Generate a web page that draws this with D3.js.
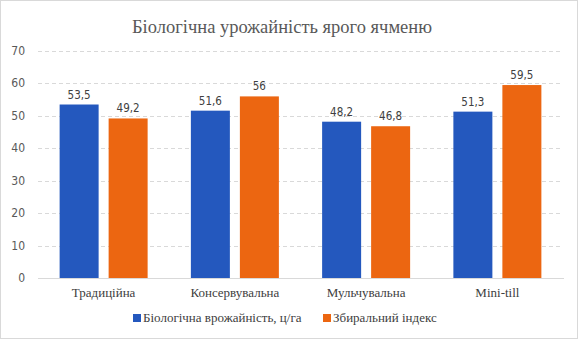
<!DOCTYPE html>
<html>
<head>
  <meta charset="UTF-8">
</head>
<body style="margin:0">
<svg width="581" height="341"></svg>
<script src="https://d3js.org/d3.v7.min.js"></script>
<script>

let width = 581, height = 341;

// data
const categories = ["Традиційна", "Консервувальна", "Мульчувальна", "Mini-till"];
const seriesNames = ["Біологічна врожайність, ц/га", "Збиральний індекс"];
const yieldValues = [53.5, 51.6, 48.2, 51.3];
const indexValues = [49.2, 56, 46.8, 59.5];
const yTicks = [0, 10, 20, 30, 40, 50, 60, 70];
const colors = ["#2458be", "#ec6611"];

const serif = "Liberation Serif";
const sans = "DejaVu Sans Condensed";

let svg = d3.select("svg");

// outer frame
svg.append("rect")
    .attr("x", 0.5).attr("y", 0.5)
    .attr("width", 577).attr("height", 338)
    .attr("fill", "none")
    .attr("stroke", "#d9d9d9");

svg.append("text")
    .attr("x", 282).attr("y", 33)
    .attr("text-anchor", "middle")
    .attr("font-family", serif)
    .attr("font-size", 18.5)
    .attr("fill", "#595959")
    .text("Біологічна урожайність ярого ячменю");

const x0 = d3.scaleBand()
    .domain(categories)
    .range([38, 563])
    .paddingInner(0.33)
    .paddingOuter(0.165);

const y = d3.scaleLinear()
    .domain([0, 70])
    .range([278, 51]);

// gridlines
svg.append("g")
    .selectAll("line")
    .data(yTicks.filter(d => d > 0))
    .enter()
    .append("line")
    .attr("x1", 38).attr("x2", 561)
    .attr("y1", d => Math.round(y(d)) + 0.5)
    .attr("y2", d => Math.round(y(d)) + 0.5)
    .attr("stroke", "#d9d9d9")
    .attr("stroke-dasharray", "4,3");

// y tick labels
svg.append("g")
    .selectAll("text")
    .data(yTicks)
    .enter()
    .append("text")
    .attr("x", 25)
    .attr("y", d => y(d) + 4)
    .attr("text-anchor", "end")
    .attr("font-family", sans)
    .attr("font-size", 12)
    .attr("fill", "#595959")
    .text(d => d);

const barW = 39, gap = 10;
const rows = categories.map((c, i) => ({ cat: c, vals: [yieldValues[i], indexValues[i]] }));

const groups = svg.append("g")
    .selectAll("g")
    .data(rows)
    .enter()
    .append("g")
    .attr("transform", d => "translate(" + (x0(d.cat) + x0.bandwidth() / 2) + ",0)");

groups.selectAll("rect")
    .data(d => d.vals)
    .enter()
    .append("rect")
    .attr("x", (d, i) => i === 0 ? -(barW + gap / 2) : gap / 2)
    .attr("y", d => y(d))
    .attr("width", barW)
    .attr("height", d => y(0) - y(d))
    .attr("fill", (d, i) => colors[i]);

groups.selectAll("text")
    .data(d => d.vals)
    .enter()
    .append("text")
    .attr("x", (d, i) => i === 0 ? -(barW + gap) / 2 : (barW + gap) / 2)
    .attr("y", d => y(d) - 6)
    .attr("text-anchor", "middle")
    .attr("font-family", sans)
    .attr("font-size", 11.5)
    .attr("fill", "#404040")
    .text(d => String(d).replace(".", ","));

// x axis line
svg.append("line")
    .attr("x1", 38).attr("x2", 564)
    .attr("y1", 278.5).attr("y2", 278.5)
    .attr("stroke", "#d9d9d9");

// category labels
svg.append("g")
    .selectAll("text")
    .data(categories)
    .enter()
    .append("text")
    .attr("x", d => x0(d) + x0.bandwidth() / 2)
    .attr("y", 297)
    .attr("text-anchor", "middle")
    .attr("font-family", serif)
    .attr("font-size", 13)
    .attr("fill", "#404040")
    .text(d => d);

// legend
const legendX = [133, 323];
const legend = svg.append("g")
    .selectAll("g")
    .data(seriesNames)
    .enter()
    .append("g")
    .attr("transform", (d, i) => "translate(" + legendX[i] + ",314)");

legend.append("rect")
    .attr("x", 0).attr("y", 0)
    .attr("width", 8).attr("height", 8)
    .attr("fill", (d, i) => colors[i]);

legend.append("text")
    .attr("x", 10).attr("y", 8)
    .attr("font-family", serif)
    .attr("font-size", 13)
    .attr("fill", "#404040")
    .text(d => d);

</script>
</body>
</html>
